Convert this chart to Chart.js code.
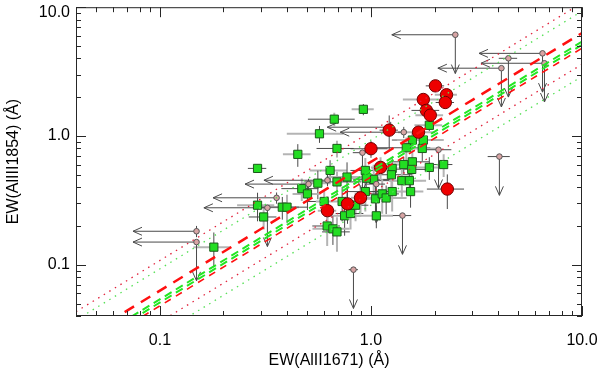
<!DOCTYPE html>
<html>
<head>
<meta charset="utf-8">
<script src="https://cdn.jsdelivr.net/npm/chart.js@4.4.1/dist/chart.umd.min.js"></script>
<style>
  html, body { margin: 0; padding: 0; background: #fff; }
  #wrap { width: 600px; height: 377px; }
</style>
</head>
<body>
<div id="wrap"><canvas id="c"></canvas></div>
<script>
// axis ranges and labels
const X_MIN = 0.04, X_MAX = 10, Y_MIN = 0.04, Y_MAX = 10;
const xTickVals = [0.1, 1, 10];
const xTickLabels = ['0.1', '1.0', '10.0'];
const yTickVals = [0.1, 1, 10];
const yTickLabels = ['0.1', '1.0', '10.0'];

// green squares: EW values and relative errors
const greenX = [0.92, 0.67, 0.57, 0.69, 0.45, 0.29, 1.89, 1.57, 1.77, 1.47, 1.75, 2.21, 1.89, 1.57, 1.43, 1.56,
  0.64, 0.94, 1.26, 1.25, 0.77, 0.69, 0.56, 1.03, 0.95, 1.40, 1.52, 0.47, 0.50, 0.94, 1.05, 1.13, 1.18, 1.26,
  1.54, 0.60, 0.73, 0.845, 0.75, 0.80, 1.06, 0.62, 0.66, 0.69, 0.29, 0.31, 0.38, 0.40, 0.18];
const greenY = [1.61, 1.35, 1.04, 0.80, 0.72, 0.56, 1.21, 0.93, 0.93, 0.81, 0.80, 0.60, 0.57, 0.63, 0.60, 0.55,
  0.54, 0.54, 0.56, 0.50, 0.48, 0.44, 0.43, 0.46, 0.47, 0.45, 0.45, 0.39, 0.355, 0.37, 0.325, 0.355, 0.33, 0.37,
  0.37, 0.31, 0.31, 0.29, 0.24, 0.25, 0.24, 0.20, 0.19, 0.18, 0.29, 0.235, 0.28, 0.28, 0.137];
const greenDx = [0.12, 0.25, 0.3, 0.2, 0.15, 0.1, 0.15, 0.2, 0.25, 0.3, 0.2, 0.1, 0.15, 0.2, 0.15, 0.2,
  0.2, 0.15, 0.2, 0.25, 0.2, 0.3, 0.15, 0.2, 0.15, 0.25, 0.2, 0.2, 0.15, 0.2, 0.15, 0.2, 0.25, 0.2,
  0.15, 0.2, 0.25, 0.15, 0.2, 0.15, 0.2, 0.15, 0.2, 0.15, 0.2, 0.15, 0.2, 0.25, 0.2];
const greenDy = [0.1, 0.12, 0.15, 0.15, 0.2, 0.08, 0.1, 0.15, 0.15, 0.2, 0.2, 0.2, 0.2, 0.25, 0.15, 0.2,
  0.2, 0.25, 0.2, 0.25, 0.3, 0.2, 0.25, 0.3, 0.2, 0.25, 0.2, 0.2, 0.25, 0.3, 0.25, 0.3, 0.25, 0.3,
  0.25, 0.2, 0.3, 0.25, 0.3, 0.25, 0.2, 0.3, 0.25, 0.3, 0.25, 0.2, 0.2, 0.25, 0.3];

// red circles
const redX = [2.02, 2.28, 2.25, 1.77, 1.83, 1.91, 1.22, 1.68, 1.00, 1.11, 2.30, 0.892, 0.774, 0.622];
const redY = [2.45, 2.09, 1.82, 1.92, 1.58, 1.45, 1.11, 1.07, 0.796, 0.570, 0.387, 0.331, 0.297, 0.263];
const redDx = [0.1, 0.12, 0.1, 0.2, 0.15, 0.15, 0.1, 0.2, 0.2, 0.1, 0.2, 0.1, 0.1, 0.1];
const redDy = [0.1, 0.1, 0.1, 0.1, 0.1, 0.1, 0.3, 0.1, 0.15, 0.2, 0.3, 0.25, 0.3, 0.3];

// upper limits (pink): kind says which axis is a limit
const limX = [2.51, 6.50, 4.48, 6.64, 4.15, 2.09, 4.06, 1.41, 0.826, 0.149, 0.149, 0.357, 0.323, 0.506, 0.622, 1.24, 1.43, 0.911, 1.06];
const limY = [6.11, 4.38, 4.01, 3.67, 3.36, 0.782, 0.692, 0.241, 0.0916, 0.182, 0.150, 0.331, 0.277, 0.423, 0.453, 1.17, 1.07, 0.742, 0.423];
const limKind = ['xy', 'xy', 'y', 'xy', 'xy', 'y', 'y', 'y', 'y', 'x', 'xy', 'x', 'xy', 'x', 'x', 'x', 'x', 'y', 'y'];
const limErr = [0.1, 0.1, 0.1, 0.1, 0.1, 0.15, 0.12, 0.1, 0.05, 0.1, 0.1, 0.1, 0.1, 0.1, 0.1, 0.1, 0.1, 0.1, 0.1];

// fitted relations y = a * x (slope 1): red best fit, green fits, scatter bands
const redFit = 0.63, redFitLow = 0.48;
const greenFit = [0.54, 0.51];
const redBand = [1.08, 0.36];
const greenBand = [0.93, 0.29];

function line(a) {
  return [{ x: X_MIN, y: a * X_MIN }, { x: X_MAX, y: a * X_MAX }];
}
function lineSet(a, color, width, dash) {
  return { type: 'line', data: line(a), borderColor: color, borderWidth: width, borderDash: dash,
    pointRadius: 0, fill: false, showLine: true, order: 0 };
}
const pts = (xs, ys) => xs.map((v, i) => ({ x: v, y: ys[i] }));

const datasets = [
  lineSet(redFit, '#ff1010', 2.5, [11, 8]),
  lineSet(greenFit[0], '#22e622', 2, [8, 5]),
  lineSet(greenFit[1], '#22e622', 2, [8, 5]),
  lineSet(redFitLow, '#ff1010', 1.6, [7, 6]),
  lineSet(redBand[0], '#e0203a', 1.3, [1.5, 5]),
  lineSet(redBand[1], '#e0203a', 1.3, [1.5, 5]),
  lineSet(greenBand[0], '#55e055', 1.3, [1.5, 5]),
  lineSet(greenBand[1], '#55e055', 1.3, [1.5, 5]),
  { data: pts(redX, redY), pointStyle: 'circle', pointRadius: 6.2, backgroundColor: '#ee0000',
    borderColor: '#700000', borderWidth: 1, order: 1 },
  { data: pts(limX, limY), pointStyle: 'circle', pointRadius: 2.8, backgroundColor: '#d8a4a4',
    borderColor: '#555', borderWidth: 1, order: 2 },
  { data: pts(greenX, greenY), pointStyle: 'rect', pointRadius: 5.8, backgroundColor: '#22dd22',
    borderColor: '#1c5a1c', borderWidth: 1, order: 3 }
];

function barStyle(ctx, i) {
  if (i % 2 === 0) { ctx.strokeStyle = '#b4b4b4'; ctx.lineWidth = 2; }
  else { ctx.strokeStyle = '#4a4a4a'; ctx.lineWidth = 1; }
}
function seg(ctx, x0, y0, x1, y1) {
  ctx.beginPath(); ctx.moveTo(x0, y0); ctx.lineTo(x1, y1); ctx.stroke();
}
function head(ctx, x, y, dx, dy) {
  // open arrowhead pointing along (dx, dy)
  const L = 9, W = 4;
  ctx.beginPath();
  ctx.moveTo(x - dx * L - dy * W, y - dy * L - dx * W);
  ctx.lineTo(x, y);
  ctx.lineTo(x - dx * L + dy * W, y - dy * L + dx * W);
  ctx.stroke();
}

const errorBars = {
  id: 'errorBars',
  beforeDatasetsDraw(chart) {
    const { ctx, chartArea: a, scales: { x, y } } = chart;
    ctx.save();
    ctx.beginPath(); ctx.rect(a.left, a.top, a.right - a.left, a.bottom - a.top); ctx.clip();
    greenX.forEach((v, i) => {
      const px = x.getPixelForValue(v), py = y.getPixelForValue(greenY[i]);
      barStyle(ctx, i);
      seg(ctx, x.getPixelForValue(v * (1 - greenDx[i])), py, x.getPixelForValue(v * (1 + greenDx[i])), py);
      barStyle(ctx, i + 1);
      seg(ctx, px, y.getPixelForValue(greenY[i] * (1 - greenDy[i])), px, y.getPixelForValue(greenY[i] * (1 + greenDy[i])));
    });
    redX.forEach((v, i) => {
      const px = x.getPixelForValue(v), py = y.getPixelForValue(redY[i]);
      barStyle(ctx, i + 1);
      seg(ctx, x.getPixelForValue(v * (1 - redDx[i])), py, x.getPixelForValue(v * (1 + redDx[i])), py);
      seg(ctx, px, y.getPixelForValue(redY[i] * (1 - redDy[i])), px, y.getPixelForValue(redY[i] * (1 + redDy[i])));
    });
    limX.forEach((v, i) => {
      const k = limKind[i];
      const px = x.getPixelForValue(v), py = y.getPixelForValue(limY[i]);
      ctx.strokeStyle = '#4a4a4a'; ctx.lineWidth = 1;
      if (k.includes('x')) {
        const tx = x.getPixelForValue(v / 2);
        seg(ctx, px, py, tx, py); head(ctx, tx, py, -1, 0);
      } else {
        seg(ctx, x.getPixelForValue(v * (1 - limErr[i])), py, x.getPixelForValue(v * (1 + limErr[i])), py);
      }
      if (k.includes('y')) {
        const ty = y.getPixelForValue(limY[i] / 2);
        seg(ctx, px, py, px, ty); head(ctx, px, ty, 0, 1);
      } else {
        seg(ctx, px, y.getPixelForValue(limY[i] * (1 - limErr[i])), px, y.getPixelForValue(limY[i] * (1 + limErr[i])));
      }
    });
    ctx.restore();
  }
};

const frame = {
  id: 'frame',
  afterDraw(chart) {
    const { ctx, chartArea: a, scales: { x, y } } = chart;
    ctx.save();
    ctx.strokeStyle = '#262626';
    ctx.lineWidth = 1;
    ctx.strokeRect(a.left + 0.5, a.top + 0.5, a.right - a.left - 1, a.bottom - a.top - 1);
    for (const d of [0.01, 0.1, 1, 10]) {
      for (let m = 1; m <= 9; m++) {
        const v = d * m, len = m === 1 ? 10 : 5;
        if (v >= X_MIN * 0.999 && v <= X_MAX * 1.001) {
          const px = Math.round(x.getPixelForValue(v)) + 0.5;
          seg(ctx, px, a.bottom, px, a.bottom - len);
          seg(ctx, px, a.top, px, a.top + len);
        }
        if (v >= Y_MIN * 0.999 && v <= Y_MAX * 1.001) {
          const py = Math.round(y.getPixelForValue(v)) + 0.5;
          seg(ctx, a.left, py, a.left + len, py);
          seg(ctx, a.right, py, a.right - len, py);
        }
      }
    }
    ctx.fillStyle = '#000';
    ctx.font = '16px "Liberation Sans", Arial, sans-serif';
    ctx.textAlign = 'right';
    ctx.textBaseline = 'middle';
    yTickVals.forEach((v, i) => {
      const py = Math.max(y.getPixelForValue(v), 13);
      ctx.fillText(yTickLabels[i], a.left - 6, py);
    });
    ctx.restore();
  }
};

Chart.defaults.font.family = '"Liberation Sans", Arial, sans-serif';
Chart.defaults.color = '#000';

new Chart(document.getElementById('c'), {
  type: 'scatter',
  data: { datasets },
  options: {
    responsive: true,
    maintainAspectRatio: false,
    animation: false,
    layout: { padding: { top: 4, right: 18, bottom: 0, left: 0 } },
    plugins: { legend: { display: false }, tooltip: { enabled: false } },
    scales: {
      x: {
        type: 'logarithmic', min: X_MIN, max: X_MAX,
        grid: { display: true, drawOnChartArea: false, drawTicks: true, tickLength: 15, tickColor: 'rgba(0,0,0,0)' },
        border: { display: false },
        afterBuildTicks: s => { s.ticks = xTickVals.map(v => ({ value: v })); },
        afterFit: s => { s.height = 61; },
        ticks: { padding: 0, font: { size: 16 }, maxRotation: 0, autoSkip: false,
          callback: (v, i) => xTickLabels[i] },
        title: { display: true, text: 'EW(AlII1671) (Å)', font: { size: 16 }, padding: { top: 0, bottom: 7 } }
      },
      y: {
        type: 'logarithmic', min: Y_MIN, max: Y_MAX,
        grid: { display: false, drawTicks: false }, border: { display: false },
        ticks: { display: false },
        afterFit: s => { s.width = 76; },
        title: { display: true, text: 'EW(AlIII1854) (Å)', font: { size: 16 }, padding: { top: 4, bottom: 0 } }
      }
    }
  },
  plugins: [errorBars, frame]
});
</script>
</body>
</html>
